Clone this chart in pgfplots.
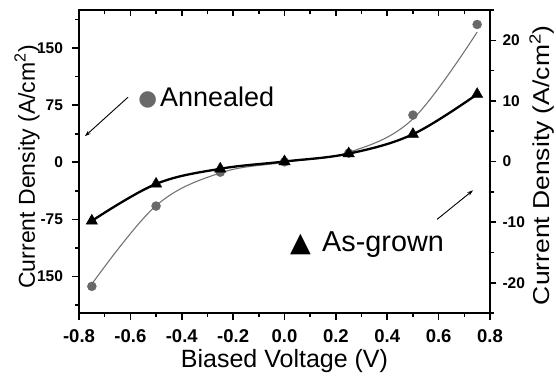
\documentclass[border=0pt]{standalone}
\usepackage{pgfplots}
\pgfplotsset{compat=1.18}
\usepackage{fontspec}
\setmainfont{Liberation Sans}
\newfontfamily\symfont{DejaVu Sans}
\usetikzlibrary{arrows.meta}
\definecolor{anngray}{RGB}{105,105,105}
\definecolor{annline}{RGB}{115,115,115}
\begin{document}
\begin{tikzpicture}
\pgfplotsset{
  base/.style={
    scale only axis, width=411pt, height=303pt,
    xmin=-0.8, xmax=0.8,
    axis line style={line width=2.4pt},
    major tick length=6.5pt, minor tick length=4pt,
    every tick/.style={line width=1.6pt, black},
    xticklabel style={font=\fontsize{18.5}{20}\selectfont\bfseries, inner sep=1pt},
    yticklabel style={font=\fontsize{15.5}{17}\selectfont\bfseries},
    /pgf/number format/assume math mode=true,
    label style={font=\fontsize{23}{25}\selectfont},
  }
}
\begin{axis}[base,
  ymin=-198, ymax=200,
  xtick pos=bottom, ytick pos=left, tick align=outside,
  xtick={-0.8,-0.6,-0.4,-0.2,0,0.2,0.4,0.6,0.8},
  xticklabels={-0.8,-0.6,-0.4,-0.2,0.0,0.2,0.4,0.6,0.8},
  minor xtick={-0.7,-0.5,-0.3,-0.1,0.1,0.3,0.5,0.7},
  ytick={-150,-75,0,75,150}, yticklabels={150,-75,0,75,150},
  minor ytick={-187.5,-112.5,-37.5,37.5,112.5,187.5},
  xticklabel shift=9pt, yticklabel shift=6pt,
  xlabel={Biased Voltage (V)},
  ylabel={Current Density (A/cm\textsuperscript{2})},
  xlabel style={at={(axis description cs:0.5,-0.159)}, anchor=center, inner sep=0pt, font=\fontsize{25}{27}\selectfont},
  ylabel style={at={(axis description cs:-0.1265,0.482)}, anchor=center},
]
% Annealed fitted curve
\addplot[annline, line width=1.1pt, smooth, tension=0.6] coordinates {
 (-0.75,-160) (-0.5,-57) (-0.25,-14) (0,0) (0.25,13) (0.5,57) (0.75,171)};
% Annealed data
\addplot[only marks, mark=*, mark size=4.5pt, mark options={fill=anngray, draw=anngray}] coordinates {
 (-0.75,-163) (-0.5,-57.5) (-0.25,-13) (0,0.5) (0.25,12) (0.5,62) (0.75,181)};
% annotations
\node[anchor=base west, text=anngray, inner sep=0pt] at (axis cs:-0.57,74.5) {\symfont\fontsize{21.5}{22}\selectfont ●};
\node[anchor=base west, inner sep=0pt] at (axis cs:-0.485,73.7) {\fontsize{27}{30}\selectfont Annealed};
\draw[line width=0.9pt, -{Stealth[length=6pt,width=4pt]}] (axis cs:-0.609,85.5) -- (axis cs:-0.777,34.2);
\node[anchor=base west, inner sep=0pt] at (axis cs:0.021,-117.1) {\symfont\fontsize{27}{27}\selectfont ▲};
\node[anchor=base west, inner sep=0pt] at (axis cs:0.146,-117.1) {\fontsize{28.8}{31}\selectfont As-grown};
\draw[line width=0.9pt, -{Stealth[length=6pt,width=4pt]}] (axis cs:0.594,-75) -- (axis cs:0.734,-36.8);
\end{axis}
\begin{axis}[base,
  ymin=-25, ymax=25,
  hide x axis, axis y line*=right, tick align=outside,
  ytick={-20,-10,0,10,20}, yticklabels={-20,-10,0,10,20},
  minor ytick={-25,-15,-5,5,15,25},
  yticklabel shift=2.5pt,
  ylabel={Current Density (A/cm\textsuperscript{2})},
  ylabel style={at={(axis description cs:1.126,0.488)}, anchor=center, xscale=1.15},
]
\addplot[black, line width=2.3pt, smooth, tension=0.6, mark=triangle*, mark size=6.5pt, mark options={line width=0.5pt, fill=black}] coordinates {
 (-0.75,-9.8) (-0.5,-3.7) (-0.25,-1.2) (0,0) (0.25,1.3) (0.5,4.5) (0.75,11.1)};
\end{axis}
\begin{axis}[base,
  ymin=0, ymax=1,
  hide y axis, axis x line*=top, tick align=inside,
  xtick={-0.8,-0.6,-0.4,-0.2,0,0.2,0.4,0.6,0.8},
  xticklabels={},
  minor xtick={-0.7,-0.5,-0.3,-0.1,0.1,0.3,0.5,0.7},
]
\end{axis}
\pgfresetboundingbox
\path[use as bounding box] (-79pt,-68pt) rectangle (477pt,313pt);
\end{tikzpicture}
\end{document}
